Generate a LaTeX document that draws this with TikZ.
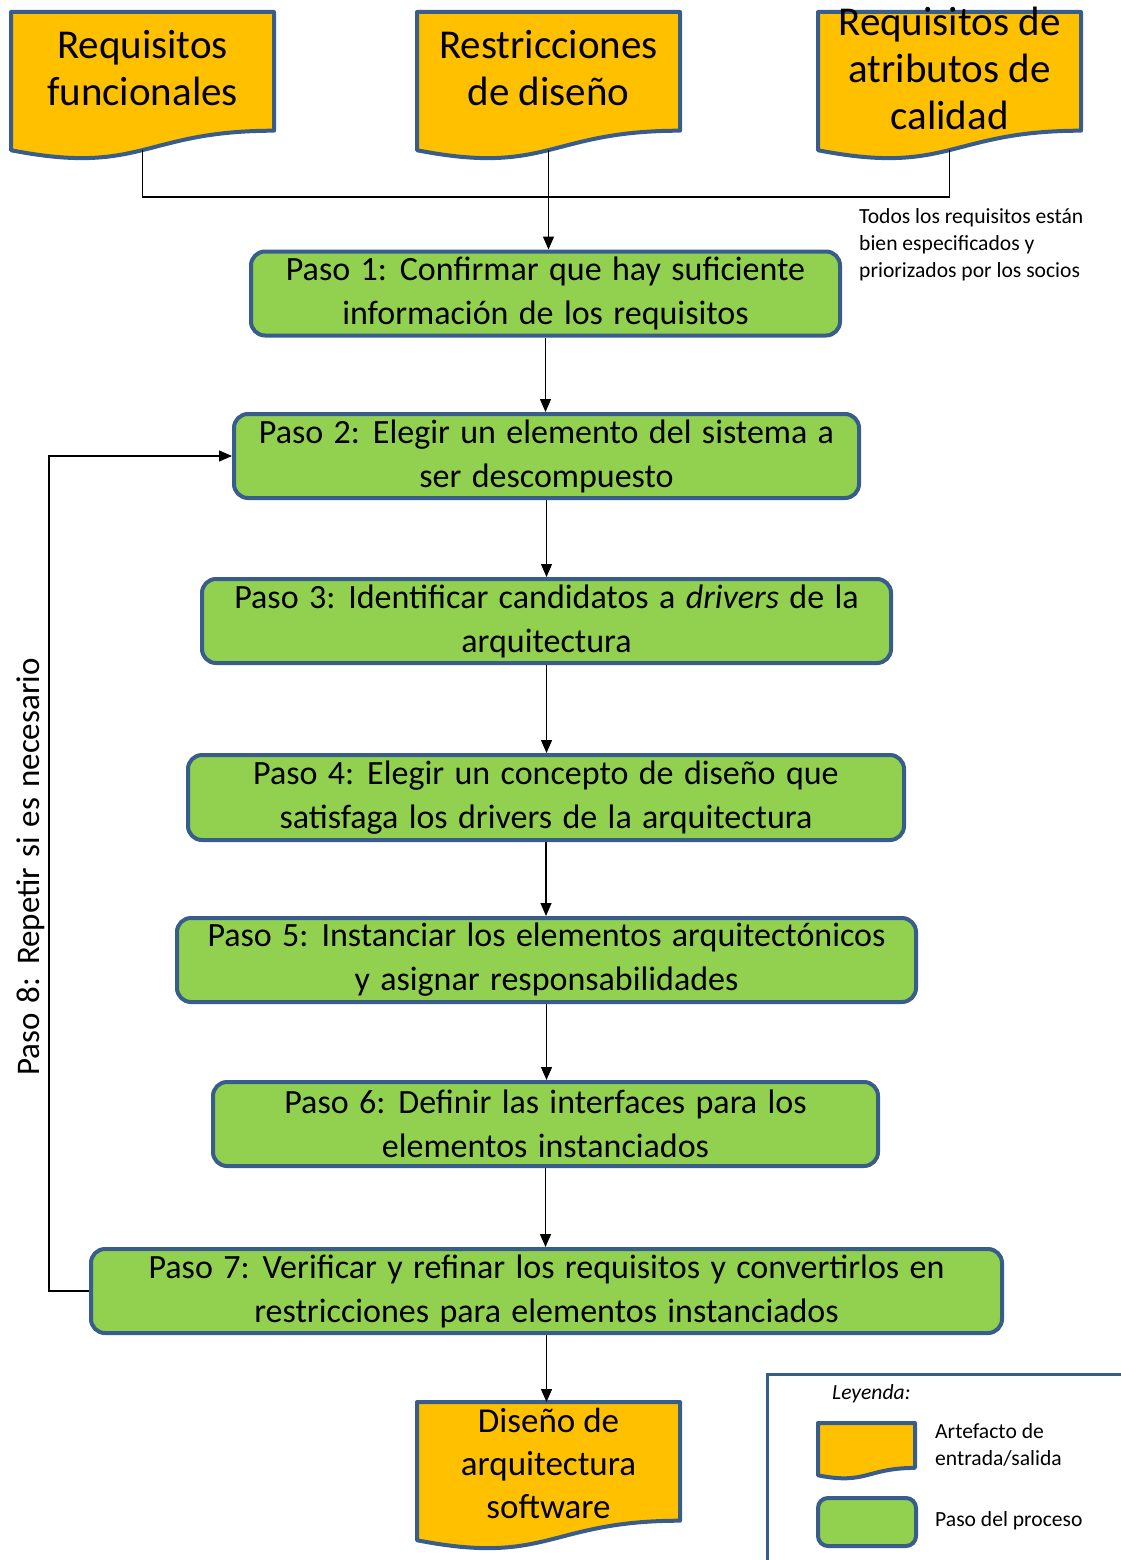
\documentclass[tikz,border=0pt]{standalone}
\usepackage{fontspec}
\setmainfont{Carlito}
\newfontfamily\stepfont{Carlito}[WordSpace=1.35]
\usetikzlibrary{arrows.meta}
\definecolor{docorange}{HTML}{FFC000}
\definecolor{stepgreen}{HTML}{92D050}
\definecolor{edgeblue}{HTML}{385D8A}

% document shape: name, left x, right x, top y, height, text offset, text style, text
\newcommand\docshp[8]{%
  \path[docfill] (#2,#4) -- (#3,#4) -- (#3,{#4+0.802*#5})
    .. controls ({(#2+#3)/2},{#4+0.802*#5}) and ({(#2+#3)/2},{#4+1.1075*#5}) ..
    (#2,{#4+0.934*#5}) -- cycle;
  \node[doctext, #7] (#1) at ({(#2+#3)/2},{#4+0.40*#5+#6}) {#8};
  \coordinate (#1-t) at ({(#2+#3)/2},#4);
  \coordinate (#1-b) at ({(#2+#3)/2},{#4+0.933*#5});
}

\begin{document}
\begin{tikzpicture}[x=1pt,y=-1pt,
  stepbox/.style={draw=edgeblue, fill=stepgreen, line width=4pt, rounded corners=14pt,
    align=center, font=\stepfont\fontsize{34}{44}\selectfont, inner sep=0pt},
  doctext/.style={align=center, font=\fontsize{41}{47}\selectfont, inner sep=0pt},
  outtext/.style={font=\fontsize{35}{43}\selectfont},
  docfill/.style={draw=edgeblue, fill=docorange, line width=4pt, line join=round},
  flow/.style={draw=black, line width=1.3pt, -{Triangle[length=13pt,width=11pt]}},
  plain/.style={draw=black, line width=1.3pt},
  note/.style={align=left, font=\fontsize{21.6}{27}\selectfont, inner sep=0pt},
]
\useasboundingbox (0,0) rectangle (1120,1560);

% input and output artefacts
\docshp{d1}{11}{274}{12}{148}{-3}{}{Requisitos\\funcionales}
\docshp{d2}{417}{680}{12}{148}{-3}{}{Restricciones\\de diseño}
\docshp{d3}{818}{1081}{12}{148}{-3}{}{Requisitos de\\atributos de\\calidad}
\docshp{dout}{417}{680}{1402}{148}{2}{outtext}{Diseño de\\arquitectura\\software}

% process steps
\node[stepbox, minimum width=589, minimum height=84] (p1) at (545.5,293.5)
  {Paso 1: Confirmar que hay suficiente\\información de los requisitos};
\node[stepbox, minimum width=625, minimum height=84] (p2) at (546.5,456)
  {Paso 2: Elegir un elemento del sistema a\\ser descompuesto};
\node[stepbox, minimum width=689, minimum height=84] (p3) at (546.5,621)
  {Paso 3: Identificar candidatos a \textit{drivers} de la\\arquitectura};
\node[stepbox, minimum width=716, minimum height=85] (p4) at (546,797.5)
  {Paso 4: Elegir un concepto de diseño que\\satisfaga los drivers de la arquitectura};
\node[stepbox, minimum width=739, minimum height=84] (p5) at (546.5,960)
  {Paso 5: Instanciar los elementos arquitectónicos\\y asignar responsabilidades};
\node[stepbox, minimum width=665, minimum height=84] (p6) at (545.5,1124)
  {Paso 6: Definir las interfaces para los\\elementos instanciados};
\node[stepbox, minimum width=911, minimum height=84] (p7) at (546.5,1291)
  {Paso 7: Verificar y refinar los requisitos y convertirlos en\\restricciones para elementos instanciados};

% side notes
\node[note, anchor=north west] (cond) at (859,208)
  {Todos los requisitos están\\bien especificados y\\priorizados por los socios};
\node[rotate=90, font=\stepfont\fontsize{33}{43}\selectfont, inner sep=0pt] (rep) at (31,867)
  {Paso 8: Repetir si es necesario};

% connectors
\coordinate (bus) at (0,197);
\coordinate (loopx) at (49,0);
\draw[plain] (d1-b) -- (d1-b |- bus) -- (d3-b |- bus) -- (d3-b);
\draw[flow] (d2-b) -- (d2-b |- p1.north);
\draw[flow] (p1.south) -- (p1.south |- p2.north);
\draw[flow] (p2.south) -- (p2.south |- p3.north);
\draw[flow] (p3.south) -- (p3.south |- p4.north);
\draw[flow] (p4.south) -- (p4.south |- p5.north);
\draw[flow] (p5.south) -- (p5.south |- p6.north);
\draw[flow] (p6.south) -- (p6.south |- p7.north);
\draw[flow] (p7.south) -- (p7.south |- dout-t);
\draw[flow] (p7.west) -- (loopx |- p7.west) -- (loopx |- p2.west) -- (p2.west);

% legend
\draw[edgeblue, line width=3pt] (767.5,1374.5) rectangle (1135,1575);
\node[note, font=\fontsize{21.6}{27}\selectfont\itshape, anchor=west] (lgtitle) at (832,1394) {Leyenda:};
\docshp{lgdoc}{818}{915}{1423}{56}{0}{}{}
\node[draw=edgeblue, fill=stepgreen, line width=4pt, rounded corners=10pt,
  minimum width=98, minimum height=48, inner sep=0pt] (lgstep) at (867,1522) {};
\node[note, anchor=west] (lgdoctext) at (935,1445) {Artefacto de\\entrada/salida};
\node[note, anchor=west] (lgsteptext) at (935,1521) {Paso del proceso};
\end{tikzpicture}
\end{document}
